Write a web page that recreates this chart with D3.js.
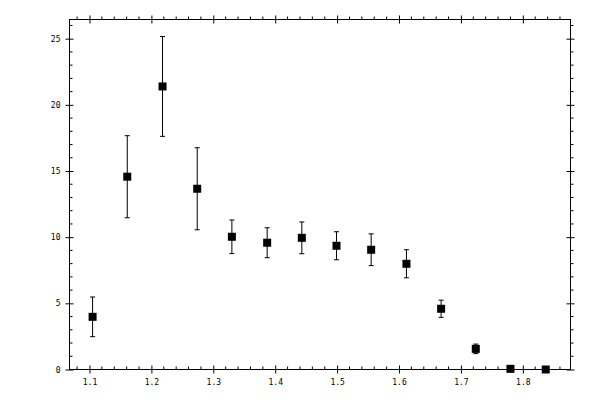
<!DOCTYPE html>
<html>
<head>
<script src="https://d3js.org/d3.v7.min.js"></script>
<style>
  body { margin: 0; background: #fff; }
  svg text { font-family: "DejaVu Sans Mono", monospace; font-size: 8px; fill: #000; }
</style>
</head>
<body>
<svg id="chart" width="600" height="400"></svg>
<script>
  // data
  const xs = [1.105, 1.161, 1.218, 1.274, 1.330, 1.387, 1.443, 1.499, 1.555, 1.612, 1.668, 1.724, 1.780, 1.837]
  const ys = [3.98, 14.57, 21.39, 13.66, 10.03, 9.58, 9.95, 9.35, 9.05, 7.99, 4.59, 1.56, 0.05, 0.0]
  const errs = [1.5, 3.1, 3.77, 3.1, 1.27, 1.13, 1.2, 1.06, 1.2, 1.06, 0.65, 0.36, 0, 0]
  const xTicks = [1.1, 1.2, 1.3, 1.4, 1.5, 1.6, 1.7, 1.8]
  const yTicks = [0, 5, 10, 15, 20, 25]

  const svg = d3.select("#chart")
  const margin = {top: 19.5, right: 29.5, bottom: 30.5, left: 69.5}
  const width = 600 - margin.left - margin.right
  const height = 400 - margin.top - margin.bottom

  const x = d3.scaleLinear().domain([1.0677, 1.877]).range([0, width])
  const y = d3.scaleLinear().domain([0, 26.45]).range([height, 0])

  const g = svg.append("g").attr("transform", "translate(" + margin.left + "," + margin.top + ")")

  // frame
  g.append("rect").attr("width", width).attr("height", height)
    .attr("fill", "none").attr("stroke", "#000").attr("stroke-width", 1)

  const xMinor = d3.range(1.08, 1.87, 0.02).filter(v => !xTicks.some(t => Math.abs(t - v) < 1e-6))
  const yMinor = d3.range(0, 27, 1).filter(v => v % 5 != 0)

  // bottom axis
  const bottomAxis = g.append("g").attr("transform", "translate(0," + height + ")")
  bottomAxis.call(d3.axisBottom(x).tickValues(xTicks).tickSize(4).tickPadding(6).tickFormat(d3.format(".1f")))
  bottomAxis.selectAll(".tick line").attr("y1", -4)
  bottomAxis.select(".domain").remove()
  bottomAxis.selectAll(".minor").data(xMinor).join("line").attr("class", "minor")
    .attr("x1", d => x(d)).attr("x2", d => x(d)).attr("y1", 0).attr("y2", -3).attr("stroke", "#000")

  // top axis
  const topAxis = g.append("g")
  topAxis.call(d3.axisTop(x).tickValues(xTicks).tickSize(4).tickFormat(""))
  topAxis.selectAll(".tick line").attr("y1", 4)
  topAxis.select(".domain").remove()
  topAxis.selectAll(".minor").data(xMinor).join("line").attr("class", "minor")
    .attr("x1", d => x(d)).attr("x2", d => x(d)).attr("y1", 0).attr("y2", -3).attr("stroke", "#000")

  // left axis
  const leftAxis = g.append("g")
  leftAxis.call(d3.axisLeft(y).tickValues(yTicks).tickSize(4).tickPadding(5))
  leftAxis.selectAll(".tick line").attr("x1", 4)
  leftAxis.select(".domain").remove()
  leftAxis.selectAll(".minor").data(yMinor).join("line").attr("class", "minor")
    .attr("y1", d => y(d)).attr("y2", d => y(d)).attr("x1", 0).attr("x2", 3).attr("stroke", "#000")

  // right axis
  const rightAxis = g.append("g").attr("transform", "translate(" + width + ",0)")
  rightAxis.call(d3.axisRight(y).tickValues(yTicks).tickSize(4).tickFormat(""))
  rightAxis.selectAll(".tick line").attr("x1", -4)
  rightAxis.select(".domain").remove()
  rightAxis.selectAll(".minor").data(yMinor).join("line").attr("class", "minor")
    .attr("y1", d => y(d)).attr("y2", d => y(d)).attr("x1", 0).attr("x2", 3).attr("stroke", "#000")

  g.selectAll(".tick text").style("font-family", "DejaVu Sans Mono, monospace").style("font-size", "8px")

  const pts = xs.map((v, i) => ({x: v, y: ys[i], e: errs[i]}))

  // error bars
  const eb = g.selectAll(".err").data(pts.filter(d => d.e > 0)).join("g").attr("class", "err")
  eb.append("line").attr("x1", d => x(d.x)).attr("x2", d => x(d.x))
    .attr("y1", d => y(d.y - d.e)).attr("y2", d => y(d.y + d.e)).attr("stroke", "#000")
  eb.append("line").attr("x1", d => x(d.x) - 2.5).attr("x2", d => x(d.x) + 2.5)
    .attr("y1", d => y(d.y + d.e)).attr("y2", d => y(d.y + d.e)).attr("stroke", "#000")
  eb.append("line").attr("x1", d => x(d.x) - 2.5).attr("x2", d => x(d.x) + 2.5)
    .attr("y1", d => y(d.y - d.e)).attr("y2", d => y(d.y - d.e)).attr("stroke", "#000")

  // markers
  g.selectAll(".pt").data(pts).join("rect").attr("class", "pt")
    .attr("x", d => x(d.x) - 4).attr("y", d => y(d.y) - 4)
    .attr("width", 8).attr("height", 8).attr("fill", "#000")
</script>
</body>
</html>
